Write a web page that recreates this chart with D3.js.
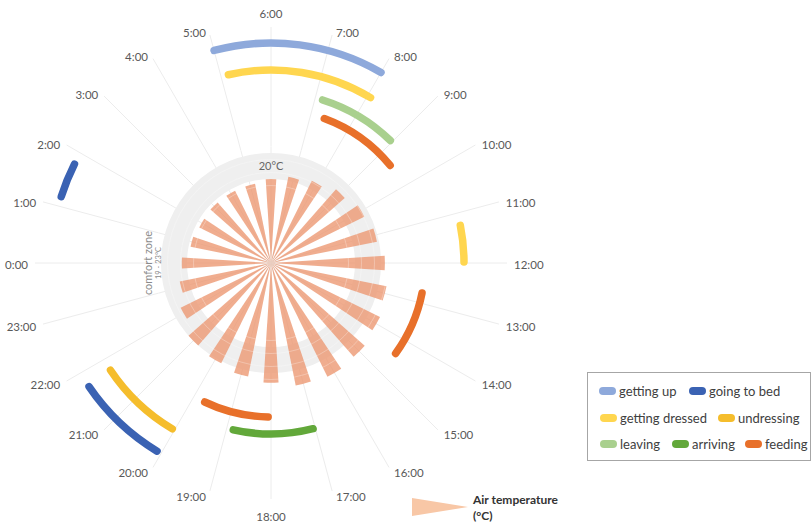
<!DOCTYPE html>
<html>
<head>
<meta charset="utf-8">
<script src="https://cdn.jsdelivr.net/npm/d3@7"></script>
<style>
  html, body { margin: 0; padding: 0; background: #ffffff; }
  svg { display: block; }
</style>
</head>
<body>
<svg id="chart" width="812" height="529"></svg>
<script>
// ---------------- DATA ----------------
const hourValues = [0,1,2,3,4,5,6,7,8,9,10,11,12,13,14,15,16,17,18,19,20,21,22,23];
const hourLabels = ["0:00","1:00","2:00","3:00","4:00","5:00","6:00","7:00","8:00","9:00","10:00","11:00",
                    "12:00","13:00","14:00","15:00","16:00","17:00","18:00","19:00","20:00","21:00","22:00","23:00"];
// air temperature per hour (°C)
const airTemperature = [19.8, 18.7, 18.4, 18.5, 18.5, 18.5, 19.0, 19.6, 20.2, 21.2, 22.1, 22.7,
                        23.6, 24.2, 24.8, 25.3, 25.6, 25.3, 24.5, 23.9, 23.3, 23.0, 21.6, 20.4];
const comfortZone = [19, 23];
const tempTickValues = [20];
const tempTickLabels = ["20°C"];

const activityNames = ["getting up", "going to bed", "getting dressed", "undressing", "leaving", "arriving", "feeding"];
const segActivity = ["getting up", "getting dressed", "leaving", "feeding", "getting dressed", "feeding",
                     "arriving", "feeding", "undressing", "going to bed", "going to bed"];
const segStart    = [5.0, 5.15, 7.17, 7.35, 11.25, 12.75, 17.05, 18.07, 20.05, 20.08, 1.17];
const segEnd      = [8.0, 8.07, 8.95, 9.38, 11.98, 14.4, 18.85, 19.7, 21.75, 21.72, 1.78];

// ---------------- STYLE ----------------
const colors = {
  "getting up": "#8EA9DB",
  "going to bed": "#3A62B3",
  "getting dressed": "#FFD64F",
  "undressing": "#F5BD2C",
  "leaving": "#A9D08E",
  "arriving": "#62A83A",
  "feeding": "#E8702A"
};
const laneRadius = {
  "getting up": 220, "going to bed": 220,
  "getting dressed": 193, "undressing": 193,
  "leaving": 171, "arriving": 171,
  "feeding": 154
};
const cx = 271, cy = 263;

const svg = d3.select("#chart");
const g = svg.append("g").attr("transform", `translate(${cx},${cy})`);

// angle: 6:00 at top, clockwise
const angle = d3.scaleLinear().domain([0, 24]).range([-Math.PI / 2, 3 * Math.PI / 2]);
// radial temperature scale
const rScale = d3.scaleLinear().domain(comfortZone).range([84, 110]);

// spokes
g.append("g").selectAll("line").data(hourValues).join("line")
  .attr("x1", 0).attr("y1", 0)
  .attr("x2", d => 236 * Math.sin(angle(d)))
  .attr("y2", d => -236 * Math.cos(angle(d)))
  .attr("stroke", "#ECECEC").attr("stroke-width", 1);

// comfort zone ring
g.append("path")
  .attr("d", d3.arc().innerRadius(rScale(comfortZone[0])).outerRadius(rScale(comfortZone[1]))
    .startAngle(0).endAngle(2 * Math.PI)())
  .attr("fill", "#EFEFEF");

// temperature wedges
const halfW = 3.6 * Math.PI / 180;
const wedge = d3.arc().innerRadius(0);
g.append("g").selectAll("path").data(hourValues).join("path")
  .attr("d", (d, i) => wedge.outerRadius(rScale(airTemperature[i]))
    .startAngle(angle(d) - halfW).endAngle(angle(d) + halfW)())
  .attr("fill", "#EC9670").attr("fill-opacity", 0.78);

// faint concentric lines across bars
g.append("g").selectAll("circle").data([18, 20, 22, 24]).join("circle")
  .attr("r", d => rScale(d)).attr("fill", "none")
  .attr("stroke", "#ffffff").attr("stroke-opacity", 0.35).attr("stroke-width", 0.8);

// temperature tick label
g.selectAll("text.tt").data(tempTickValues).join("text").attr("class", "tt")
  .attr("x", 0).attr("y", (d) => -rScale(d) - 3)
  .attr("text-anchor", "middle")
  .attr("font-family", "Lato, 'Open Sans', sans-serif").attr("font-size", 11)
  .attr("fill", "#666").text((d, i) => tempTickLabels[i]);

// comfort zone label
const cz = g.append("g").attr("transform", "translate(-119,0) rotate(-90)");
cz.append("text").attr("x", 0).attr("y", 0).attr("text-anchor", "middle")
  .attr("font-family", "Lato, 'Open Sans', sans-serif").attr("font-size", 11)
  .attr("fill", "#8a8a8a").text("comfort zone");
cz.append("text").attr("x", 0).attr("y", 9).attr("text-anchor", "middle")
  .attr("font-family", "Lato, 'Open Sans', sans-serif").attr("font-size", 7.5)
  .attr("fill", "#8a8a8a").text(`${comfortZone[0]} - ${comfortZone[1]}°C`);

// activity arcs
const arcs = g.append("g");
segActivity.forEach((act, i) => {
  const p = d3.path();
  const r = laneRadius[act];
  p.arc(0, 0, r, angle(segStart[i]) - Math.PI / 2, angle(segEnd[i]) - Math.PI / 2, false);
  arcs.append("path").attr("d", p.toString())
    .attr("fill", "none").attr("stroke", colors[act])
    .attr("stroke-width", 7.5).attr("stroke-linecap", "round");
});

// hour labels
const labR = 240;
g.append("g").selectAll("text").data(hourValues).join("text")
  .each(function (d, i) {
    const a = angle(d);
    const s = Math.sin(a), c = Math.cos(a);
    let x = labR * s, y = -labR * c;
    const el = d3.select(this);
    if (Math.abs(s) < 0.01) {
      el.attr("text-anchor", "middle");
      y = c > 0 ? y - 5 : y + 18;
    } else {
      el.attr("text-anchor", s > 0 ? "start" : "end");
      x += s > 0 ? 3 : -3;
      y += 6;
    }
    el.attr("x", x).attr("y", y);
  })
  .attr("font-family", "Lato, 'Open Sans', sans-serif").attr("font-size", 11.5)
  .attr("fill", "#595959").text((d, i) => hourLabels[i]);

// legend
const lg = svg.append("g");
lg.append("rect").attr("x", 587.5).attr("y", 372.5).attr("width", 223).attr("height", 88)
  .attr("fill", "#fff").attr("stroke", "#a6a6a6").attr("stroke-width", 1);
const legendPos = {
  "getting up": [599, 391], "going to bed": [689, 391],
  "getting dressed": [600, 418], "undressing": [718, 418],
  "leaving": [600, 444], "arriving": [672, 444], "feeding": [745, 444]
};
activityNames.forEach(name => {
  const [x, y] = legendPos[name];
  lg.append("rect").attr("x", x).attr("y", y - 4).attr("width", 17).attr("height", 8)
    .attr("rx", 4).attr("fill", colors[name]);
  lg.append("text").attr("x", x + 20).attr("y", y + 4.5)
    .attr("font-family", "Lato, 'Open Sans', sans-serif").attr("font-size", 13)
    .attr("fill", "#404040").text(name);
});

// air temperature legend
svg.append("path").attr("d", "M412,498 L468,507 L412,516 Z").attr("fill", "#F8C7A6");
svg.append("text").attr("x", 473).attr("y", 504)
  .attr("font-family", "Lato, 'Open Sans', sans-serif").attr("font-size", 12).attr("font-weight", "bold")
  .attr("fill", "#333").text("Air temperature");
svg.append("text").attr("x", 473).attr("y", 520)
  .attr("font-family", "Lato, 'Open Sans', sans-serif").attr("font-size", 12).attr("font-weight", "bold")
  .attr("fill", "#333").text("(°C)");
</script>
</body>
</html>
